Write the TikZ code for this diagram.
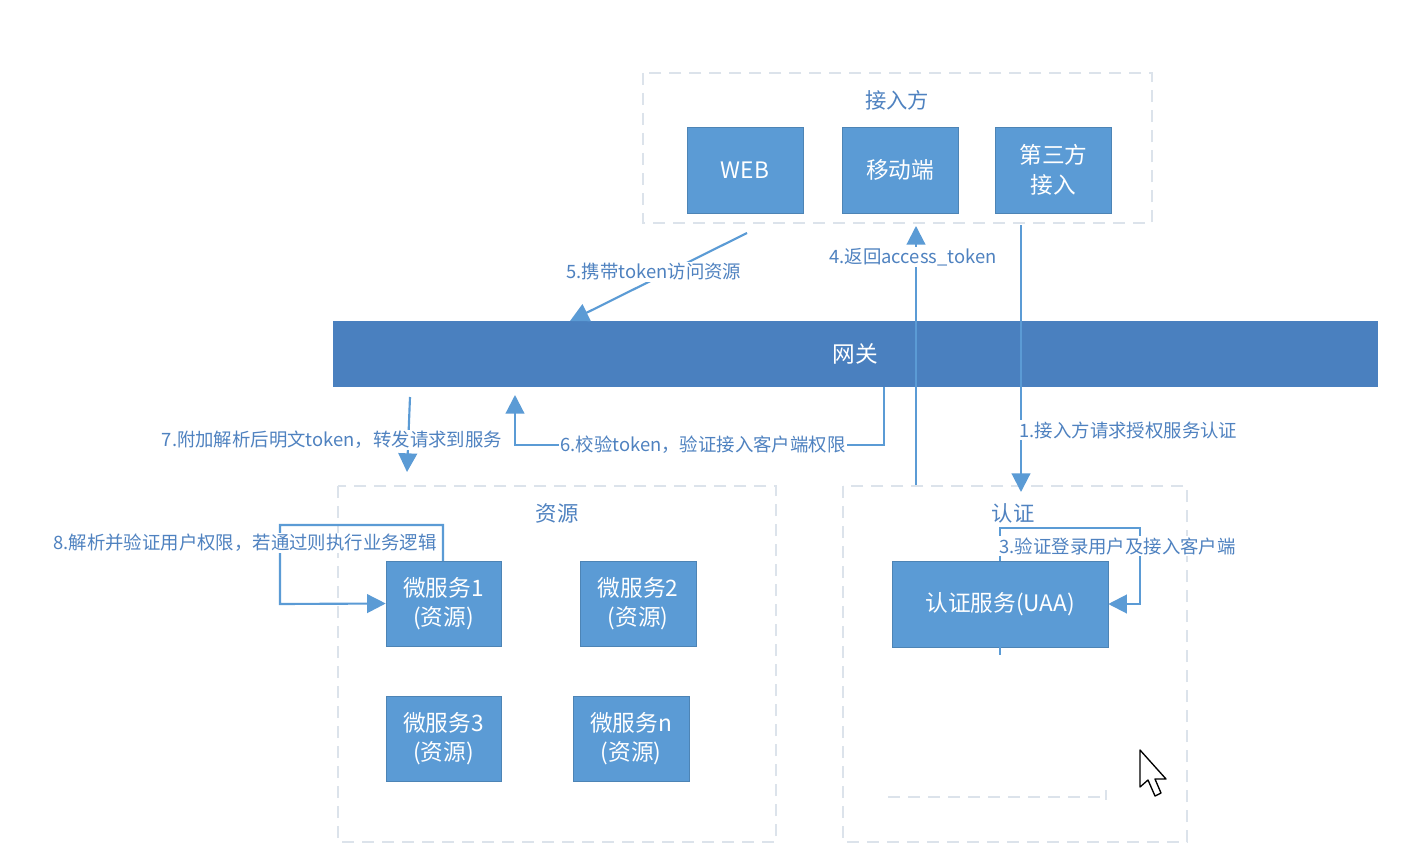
\documentclass[tikz,border=0pt]{standalone}
\usepackage{fontspec}
\setmainfont{Noto Sans CJK SC}
\usetikzlibrary{arrows.meta}
\definecolor{boxblue}{HTML}{5B9BD5}
\definecolor{barblue}{HTML}{4A80BF}
\definecolor{lineblue}{HTML}{5B9BD5}
\definecolor{txtblue}{HTML}{4F82C0}
\definecolor{dashgray}{HTML}{DCE3EB}
\tikzset{
  svcbox/.style={fill=boxblue, draw=boxblue!85!black, line width=0.4pt, text=white, font=\fontsize{17}{22}\selectfont, align=center, inner sep=0pt},
  grpbox/.style={draw=dashgray, dash pattern=on 9pt off 6pt, line width=1.2pt},
  grptitle/.style={text=txtblue, font=\fontsize{16}{20}\selectfont},
  conn/.style={draw=lineblue, line width=1.6pt, -{Triangle[width=14pt,length=14pt]}},
  plain/.style={draw=lineblue, line width=1.6pt},
  lbl/.style={text=txtblue, font=\fontsize{13.8}{16}\selectfont, fill=white, inner sep=1pt},
}
\begin{document}
\begin{tikzpicture}[x=0.75pt,y=-0.75pt]
\useasboundingbox (0,0) rectangle (1422,856);
\fill[white] (0,0) rectangle (1422,856);

% groups
\draw[grpbox] (643,73) rectangle (1152,223);
\node[grptitle] (tjr) at (897,100) {接入方};
\draw[grpbox] (338,486) rectangle (776,842);
\node[grptitle] (tzy) at (557,513) {资源};
\draw[grpbox] (843,486) rectangle (1187,842);
\node[grptitle] (trz) at (1013,513) {认证};
\draw[draw=dashgray, dash pattern=on 9pt off 6pt, line width=1pt] (888,797) -- (1105,797);
\draw[draw=dashgray, line width=1pt] (1106,790) -- (1106,800);

% clients
\node[svcbox, minimum width=87pt, minimum height=64.5pt] (web) at (745,170) {WEB};
\node[svcbox, minimum width=87pt, minimum height=64.5pt] (mob) at (900,170) {移动端};
\node[svcbox, minimum width=87pt, minimum height=64.5pt] (third) at (1053.5,170) {第三方\\接入};

% gateway
\node[fill=barblue, minimum width=783.75pt, minimum height=49.5pt, inner sep=0pt, text=white, font=\fontsize{17}{22}\selectfont] (gw) at (855.5,354) {网关};

% microservices
\node[svcbox, minimum width=86.25pt, minimum height=63.75pt] (ms1) at (443.5,603.5) {微服务1\\(资源)};
\node[svcbox, minimum width=87pt, minimum height=63.75pt] (ms2) at (638,603.5) {微服务2\\(资源)};
\node[svcbox, minimum width=86.25pt, minimum height=63.75pt] (ms3) at (443.5,738.5) {微服务3\\(资源)};
\node[svcbox, minimum width=87pt, minimum height=63.75pt] (msn) at (631,738.5) {微服务n\\(资源)};

% UAA
\node[svcbox, minimum width=162pt, minimum height=64.5pt] (uaa) at (1000,604) {认证服务(UAA)};
\draw[plain, line width=1pt] (uaa.south) -- ++(0,8);

% coordinates
\coordinate (a5s) at (747,233);
\coordinate (a5e) at (570,321);
\coordinate (a4s) at (916,485);
\coordinate (a4e) at (916,226);
\coordinate (a1s) at (1021,225);
\coordinate (a1e) at (1021,492);
\coordinate (a7s) at (410,397);
\coordinate (a7e) at (407,472);
\coordinate (a6s) at (884,387);
\coordinate (a6e) at (515,395);

% 5
\draw[conn] (a5s) -- (a5e);
\node[lbl] (l5) at (654,272) {5.携带token访问资源};
% 4
\draw[conn] (a4s) -- (a4e);
\node[lbl] (l4) at (913,257) {4.返回access\_token};
% 1
\draw[conn] (a1s) -- (a1e);
\node[lbl, anchor=west] (l1) at (1018,430) {1.接入方请求授权服务认证};
% 7
\draw[conn] (a7s) -- (a7e);
\node[lbl] (l7) at (332,440) {7.附加解析后明文token，转发请求到服务};
% 6
\draw[conn] (a6s) -- (884,445) -- (515,445) -- (a6e);
\node[lbl] (l6) at (703,445) {6.校验token，验证接入客户端权限};
% 8
\draw[conn] (443,561) -- (443,525) -- (280,525) -- (280,604) -- (ms1.west);
\node[lbl] (l8) at (245,543) {8.解析并验证用户权限，若通过则执行业务逻辑};
% 3
\draw[conn] (1000,561) -- (1000,528) -- (1140,528) -- (1140,604) -- (uaa.east);
\node[lbl, anchor=west] (l3) at (998,546) {3.验证登录用户及接入客户端};

% mouse cursor
\draw[fill=white, draw=black, line width=1pt, line join=round]
  (1140,750) -- (1140,787) -- (1148,780) -- (1155,796) -- (1161,793) -- (1155,779) -- (1166,779) -- cycle;
\end{tikzpicture}
\end{document}
